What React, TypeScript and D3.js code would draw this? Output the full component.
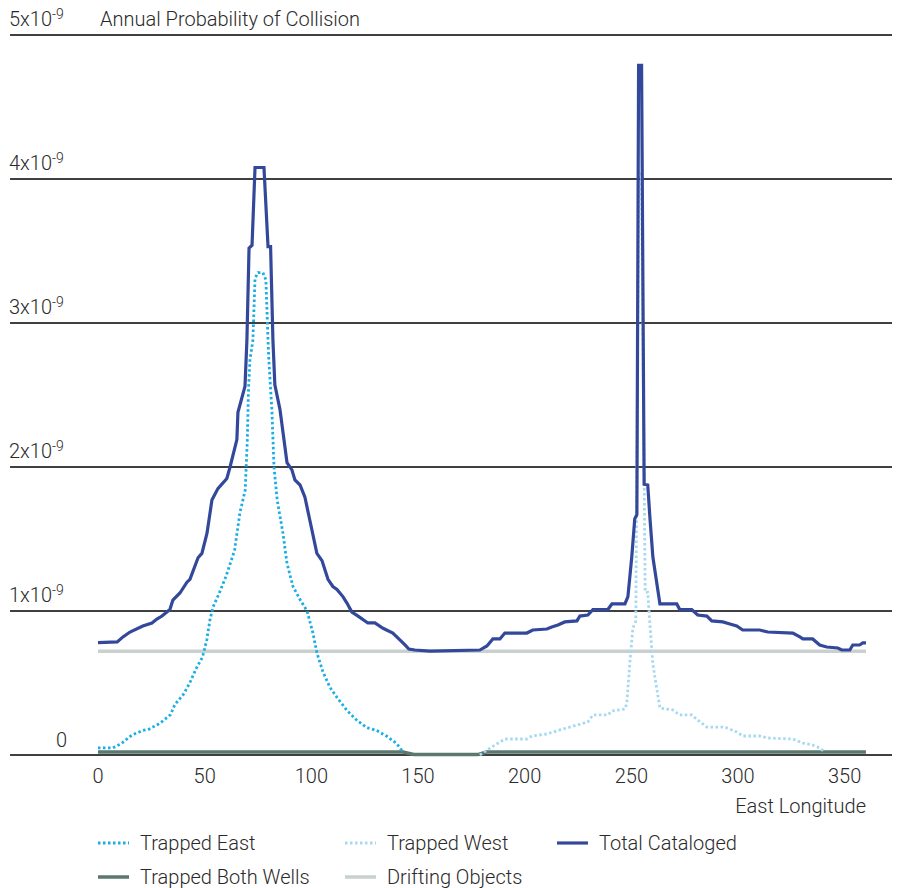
import React from "react";
import * as d3 from "d3";

// values in units of 1x10^-9, longitude in degrees east
const trappedEast: [number, number][] = [
  [0, 0.05], [7, 0.05], [11, 0.08], [16, 0.14], [21, 0.17], [24, 0.18], [29, 0.22],
  [34, 0.28], [36, 0.35], [40, 0.42], [43, 0.5], [46, 0.6], [49, 0.68], [51, 0.8],
  [52.5, 0.94], [54, 1.03], [57, 1.13], [60, 1.24], [64, 1.42], [66.5, 1.68], [69, 1.84],
  [70, 2.19], [70.5, 2.52], [71.2, 2.74], [72.6, 2.88], [73.6, 3.31], [75, 3.35],
  [77.3, 3.35], [78.7, 3.3], [79.7, 2.88], [80.1, 2.74], [81.5, 2.4], [82.5, 2.0],
  [84, 1.77], [86.7, 1.54], [88.6, 1.33], [91.4, 1.17], [94.7, 1.08], [98, 1.0],
  [100.7, 0.85], [102.6, 0.71], [105.4, 0.58], [108.7, 0.47], [112, 0.4], [116.7, 0.31],
  [121.4, 0.24], [126, 0.19], [130.7, 0.17], [135.4, 0.13], [140, 0.08], [143, 0.02],
];

const trappedWest: [number, number][] = [
  [179, 0.0], [184.6, 0.056], [190.7, 0.111], [201, 0.111], [203.4, 0.132], [210.4, 0.146],
  [216.5, 0.174], [224.5, 0.208], [229.6, 0.229], [232, 0.278], [239, 0.278], [240.9, 0.306],
  [247, 0.319], [247.9, 0.36], [249.3, 0.64], [250.7, 0.88], [252.1, 0.93], [253.5, 4.05],
  [254.7, 4.05], [256.5, 1.13], [257.7, 1.13], [258.7, 0.91], [260.1, 0.63], [263.4, 0.326],
  [269.4, 0.313], [272.7, 0.278], [278.3, 0.278], [281.1, 0.243], [285.4, 0.194],
  [292.9, 0.194], [294.8, 0.188], [299.4, 0.16], [302.2, 0.132], [310.2, 0.132],
  [314, 0.118], [325.7, 0.111], [330.4, 0.083], [335, 0.069], [338.3, 0.049], [340.7, 0.02],
];

const totalCataloged: [number, number][] = [
  [0, 0.78], [9, 0.785], [11.7, 0.82], [15, 0.854], [21, 0.896], [25.3, 0.917], [27.6, 0.944],
  [30, 0.965], [33.7, 1.01], [35.1, 1.076], [38.4, 1.125], [41.7, 1.2], [43.1, 1.22],
  [46.9, 1.37], [48.7, 1.4], [51.1, 1.54], [53.4, 1.77], [56.2, 1.85], [60.4, 1.92],
  [61.9, 2.0], [65.1, 2.19], [65.6, 2.38], [68.9, 2.56], [69.8, 2.88], [70.8, 3.52],
  [72.2, 3.54], [73.6, 4.08], [77.8, 4.08], [79.7, 3.53], [80.9, 3.53], [82, 2.88],
  [82.9, 2.57], [85.3, 2.4], [88.6, 2.03], [90.9, 1.98], [92.3, 1.91], [94.7, 1.875],
  [97, 1.79], [99.3, 1.63], [102.6, 1.4], [105, 1.35], [107.8, 1.22], [110.1, 1.17],
  [112, 1.15], [114.8, 1.1], [116.7, 1.055], [119, 0.993], [121.4, 0.97], [126.5, 0.917],
  [129.8, 0.917], [133.6, 0.88], [138.2, 0.847], [141.5, 0.8], [143.9, 0.764],
  [145.7, 0.736], [148.5, 0.729], [155.6, 0.722], [179, 0.729], [182.3, 0.757],
  [185.1, 0.806], [188.4, 0.806], [190.7, 0.847], [201, 0.847], [203.8, 0.868],
  [210.4, 0.875], [212.7, 0.889], [215.6, 0.903], [218.8, 0.924], [224.5, 0.931],
  [225.9, 0.965], [229.6, 0.972], [232, 1.01], [239, 1.01], [240.9, 1.049], [247, 1.049],
  [248.4, 1.1], [250.2, 1.375], [251.6, 1.64], [252.6, 1.67], [253.4, 4.79], [254.8, 4.79],
  [256.0, 1.88], [257.7, 1.875], [258.7, 1.65], [260.1, 1.375], [263.4, 1.049],
  [271.3, 1.049], [272.7, 1.01], [278.3, 1.01], [281.1, 0.972], [285.4, 0.965],
  [287.7, 0.931], [292.9, 0.924], [296.2, 0.91], [299.4, 0.896], [302.2, 0.868],
  [310.2, 0.868], [314, 0.854], [325.7, 0.847], [329, 0.82], [330.4, 0.806], [335, 0.806],
  [338.3, 0.764], [341.6, 0.75], [346.8, 0.743], [348.6, 0.729], [352.4, 0.729],
  [353.8, 0.764], [357, 0.764], [358.5, 0.778], [360, 0.778],
];

const trappedBothWells: [number, number][] = [
  [0, 0.02], [143, 0.02], [148, 0.003], [178, 0.003], [182, 0.02], [360, 0.02],
];

const driftingObjects: [number, number][] = [[0, 0.72], [360, 0.72]];

const xTicks = [0, 50, 100, 150, 200, 250, 300, 350];
const yTicks = [0, 1, 2, 3, 4, 5];

const FONT = "Roboto, 'Liberation Sans', Arial, sans-serif";
const TEXT = "#2a2a2a";
const FS = 20;

const series = [
  { name: "Drifting Objects", data: driftingObjects, color: "#c8d1ce", width: 3.5, dash: null },
  { name: "Trapped Both Wells", data: trappedBothWells, color: "#5a786e", width: 3.5, dash: null },
  { name: "Trapped East", data: trappedEast, color: "#1aaee6", width: 2.8, dash: "2.5 2.5" },
  { name: "Trapped West", data: trappedWest, color: "#a6d9f1", width: 2.8, dash: "2.5 2.5" },
  { name: "Total Cataloged", data: totalCataloged, color: "#33489a", width: 3.2, dash: null },
];

// legend layout: [series name, x, y]
const legendItems: [string, number, number][] = [
  ["Trapped East", 98, 843],
  ["Trapped West", 345, 843],
  ["Total Cataloged", 557, 843],
  ["Trapped Both Wells", 98, 877],
  ["Drifting Objects", 345, 877],
];

export default function App() {
  const width = 902;
  const height = 888;

  const x = d3.scaleLinear().domain([0, 360]).range([98, 866]);
  const y = d3.scaleLinear().domain([0, 5]).range([755, 35]);

  const line = d3
    .line<[number, number]>()
    .x((d) => x(d[0]))
    .y((d) => y(d[1]));

  return (
    <svg
      width={width}
      height={height}
      style={{ position: "absolute", left: 0, top: 0, background: "#fff" }}
      fontFamily={FONT}
    >
      {/* horizontal grid */}
      {yTicks.map((t) => (
        <line key={t} x1={10} x2={892} y1={y(t)} y2={y(t)} stroke="#000" strokeWidth={1.4} />
      ))}

      {/* y labels */}
      {yTicks.map((t) =>
        t === 0 ? (
          <text key={t} x={56} y={y(t) - 8} fontSize={FS} fontWeight={300} fill={TEXT}>
            0
          </text>
        ) : (
          <text key={t} x={9} y={y(t) - 9} fontSize={FS} fontWeight={300} fill={TEXT}>
            {t}x10
            <tspan fontSize={14} dy={-7}>
              -9
            </tspan>
          </text>
        )
      )}
      <text x={100} y={y(5) - 9} fontSize={FS} fontWeight={300} fill={TEXT}>
        Annual Probability of Collision
      </text>

      {/* x labels */}
      {xTicks.map((t) => (
        <text key={t} x={x(t)} y={783} fontSize={FS} fontWeight={300} fill={TEXT} textAnchor="middle">
          {t}
        </text>
      ))}
      <text x={866} y={813} fontSize={FS} fontWeight={300} fill={TEXT} textAnchor="end">
        East Longitude
      </text>

      {/* series */}
      {series.map((s) => (
        <path
          key={s.name}
          d={line(s.data) || ""}
          fill="none"
          stroke={s.color}
          strokeWidth={s.width}
          strokeDasharray={s.dash || undefined}
          strokeLinejoin="miter"
        />
      ))}

      {/* legend */}
      {legendItems.map(([name, lx, ly]) => {
        const s = series.find((d) => d.name === name)!;
        return (
          <g key={name}>
            <line
              x1={lx}
              x2={lx + 31}
              y1={ly}
              y2={ly}
              stroke={s.color}
              strokeWidth={s.width}
              strokeDasharray={s.dash || undefined}
            />
            <text x={lx + 42} y={ly + 7} fontSize={FS} fontWeight={300} fill={TEXT}>
              {name}
            </text>
          </g>
        );
      })}
    </svg>
  );
}
